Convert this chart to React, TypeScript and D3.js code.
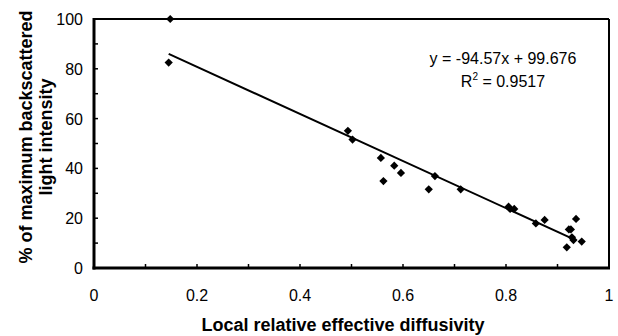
import React from "react";
import * as d3 from "d3";

const xValues = [0.148, 0.145, 0.493, 0.502, 0.557, 0.562, 0.583, 0.596, 0.650, 0.662, 0.712, 0.805, 0.808, 0.816, 0.858, 0.875, 0.918, 0.922, 0.926, 0.928, 0.931, 0.936, 0.947];
const yValues = [100, 82.5, 55.1, 51.6, 44.2, 34.9, 41.1, 38.2, 31.6, 36.9, 31.6, 24.6, 23.7, 23.7, 17.9, 19.3, 8.3, 15.5, 15.5, 12.3, 11.2, 19.7, 10.6];
const trendX = [0.145, 0.93];
const slope = -94.57;
const intercept = 99.676;
const xTicks = [0, 0.2, 0.4, 0.6, 0.8, 1];
const xMinor = [0.1, 0.3, 0.5, 0.7, 0.9];
const yTicks = [0, 20, 40, 60, 80, 100];
const yMinor = [10, 30, 50, 70, 90];

const W = 618, H = 336;
const L = 94, R = 609, T = 19, B = 268;
const font = "Liberation Sans, Arial, sans-serif";

export default function App() {
  const x = d3.scaleLinear().domain([0, 1]).range([L, R]);
  const y = d3.scaleLinear().domain([0, 100]).range([B, T]);
  const diamond = d3.symbol(d3.symbolSquare, 34)()!;
  const line = d3.line<number>().x((d) => x(d)).y((d) => y(slope * d + intercept));
  const fmt = (v: number) => (v === 0 || v === 1 ? String(v) : v.toFixed(1));
  return (
    <svg width={W} height={H} style={{ position: "absolute", left: 0, top: 0, background: "#fff" }} fontFamily={font}>
      <rect x={0} y={0} width={W} height={H} fill="#fff" />
      {/* frame */}
      <line x1={L} x2={R} y1={T} y2={T} stroke="#000" strokeWidth={2} />
      <line x1={R} x2={R} y1={T} y2={B} stroke="#000" strokeWidth={2} />
      <line x1={L} x2={L} y1={T - 1} y2={B + 1.5} stroke="#000" strokeWidth={3} />
      <line x1={L - 1.5} x2={R + 1} y1={B} y2={B} stroke="#000" strokeWidth={3} />
      {/* ticks */}
      {[...xTicks, ...xMinor].map((t) => (
        <line key={"xt" + t} x1={x(t)} x2={x(t)} y1={B} y2={B - 4} stroke="#000" strokeWidth={1.5} />
      ))}
      {[...yTicks, ...yMinor].map((t) => (
        <line key={"yt" + t} x1={L} x2={L + 4} y1={y(t)} y2={y(t)} stroke="#000" strokeWidth={1.5} />
      ))}
      {xTicks.map((t) => (
        <text key={"xl" + t} x={x(t)} y={B + 33} textAnchor="middle" fontSize={16} fill="#000">
          {fmt(t)}
        </text>
      ))}
      {yTicks.map((t) => (
        <text key={"yl" + t} x={L - 11} y={y(t) + 6} textAnchor="end" fontSize={16} fill="#000">
          {t}
        </text>
      ))}
      {/* trendline */}
      <path d={line(trendX)!} stroke="#000" strokeWidth={2} fill="none" />
      {/* points */}
      {xValues.map((xv, i) => (
        <path key={"p" + i} d={diamond} transform={`translate(${x(xv)},${y(yValues[i])}) rotate(45)`} fill="#000" />
      ))}
      {/* equation */}
      <text x={503} y={64} textAnchor="middle" fontSize={16} fill="#000">
        y = -94.57x + 99.676
      </text>
      <text x={503} y={87} textAnchor="middle" fontSize={16} fill="#000">
        R<tspan dy={-7} fontSize={10}>2</tspan>
        <tspan dy={7}> = 0.9517</tspan>
      </text>
      {/* axis titles */}
      <text x={343} y={331} textAnchor="middle" fontSize={18} fontWeight="bold" fill="#000">
        Local relative effective diffusivity
      </text>
      <g transform="translate(32,137) rotate(-90)">
        <text x={0} y={0} textAnchor="middle" fontSize={18} fontWeight="bold" fill="#000">
          % of maximum backscattered
        </text>
        <text x={0} y={20} textAnchor="middle" fontSize={18} fontWeight="bold" fill="#000">
          light intensity
        </text>
      </g>
    </svg>
  );
}
